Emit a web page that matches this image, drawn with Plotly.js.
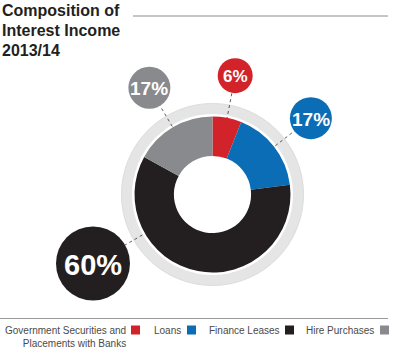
<!DOCTYPE html>
<html><head><meta charset="utf-8">
<script src="https://cdn.plot.ly/plotly-3.0.1.min.js"></script>
<style>html,body{margin:0;padding:0;background:#fff}#chart{width:393px;height:354px}</style>
</head><body><div id="chart"></div>
<script>
// ---- data ----
const categories = ['Government Securities and Placements with Banks', 'Loans', 'Finance Leases', 'Hire Purchases'];
const values = [6, 17, 60, 17];
const titleLines = ['Composition of', 'Interest Income', '2013/14'];
const legendLabels = ['Government Securities and<br>Placements with Banks', 'Loans', 'Finance Leases', 'Hire Purchases'];

// ---- styling / layout ----
const colors = ['#d2232a', '#0b6db5', '#231f20', '#898a8d'];
const W = 393, H = 354;
const cx = 212.5, cy = 194.5, R = 78;
const px = v => v / W, py = v => 1 - v / H;
const bubbleR = [17.5, 21, 37, 21];
const bubbleFont = [17, 19, 29, 19];
const bubbleDist = [121, 124.5, 138, 124];
const angleOverride = [null, null, 240, null];

const total = values.reduce((a, b) => a + b, 0);
let cum = 0;
const shapes = [];
const annotations = [];

// grey ring
shapes.push({type: 'circle', xref: 'paper', yref: 'paper', layer: 'below',
  x0: px(cx - 91), x1: px(cx + 91), y0: py(cy + 91), y1: py(cy - 91),
  fillcolor: '#e5e5e5', line: {color: '#dcdcdc', width: 1}});
shapes.push({type: 'circle', xref: 'paper', yref: 'paper', layer: 'below',
  x0: px(cx - 80.5), x1: px(cx + 80.5), y0: py(cy + 80.5), y1: py(cy - 80.5),
  fillcolor: '#ffffff', line: {width: 0}});

const bubbles = [];
values.forEach((v, i) => {
  const mid = (cum + v / 2) / total * 360;
  cum += v;
  const a = (angleOverride[i] !== null ? angleOverride[i] : mid) * Math.PI / 180;
  const ex = cx + R * Math.sin(a), ey = cy - R * Math.cos(a);
  const bx = cx + bubbleDist[i] * Math.sin(a), by = cy - bubbleDist[i] * Math.cos(a);
  shapes.push({type: 'line', xref: 'paper', yref: 'paper', layer: 'below',
    x0: px(bx), y0: py(by), x1: px(ex), y1: py(ey),
    line: {color: '#333', width: 0.8, dash: 'dot'}});
  bubbles.push({type: 'circle', xref: 'paper', yref: 'paper', layer: 'below',
    x0: px(bx - bubbleR[i]), x1: px(bx + bubbleR[i]), y0: py(by + bubbleR[i]), y1: py(by - bubbleR[i]),
    fillcolor: colors[i], line: {width: 0}});
  annotations.push({xref: 'paper', yref: 'paper', x: px(bx), y: py(by + 1), xanchor: 'center', yanchor: 'middle',
    text: '<b>' + Math.round(v / total * 100) + '%</b>', showarrow: false,
    font: {family: 'Liberation Sans, Arial, sans-serif', size: bubbleFont[i], color: '#ffffff'}});
});
shapes.push(...bubbles);

// title
const titleY = [11, 30.5, 50];
titleLines.forEach((t, i) => annotations.push({xref: 'paper', yref: 'paper', x: px(0), y: py(titleY[i]),
  xanchor: 'left', yanchor: 'middle', text: '<b>' + t + '</b>', showarrow: false,
  font: {family: 'Liberation Sans, Arial, sans-serif', size: 16, color: '#231f20'}}));
shapes.push({type: 'line', xref: 'paper', yref: 'paper', x0: px(133), x1: px(388), y0: py(16), y1: py(16),
  line: {color: '#8c8c8c', width: 1}});

// legend
shapes.push({type: 'line', xref: 'paper', yref: 'paper', x0: px(0), x1: px(388), y0: py(318.5), y1: py(318.5),
  line: {color: '#9a9a9a', width: 1}});
const legTextRight = [127, 182, 281, 375];
const legSq = [131, 187, 285, 380];
legendLabels.forEach((t, i) => {
  annotations.push({xref: 'paper', yref: 'paper', x: px(legTextRight[i]), y: py(324), xanchor: 'right', yanchor: 'top',
    align: 'right', text: t, showarrow: false, borderpad: 0,
    font: {family: 'Liberation Sans, Arial, sans-serif', size: 10, color: '#4a4a4a'}});
  shapes.push({type: 'rect', xref: 'paper', yref: 'paper', x0: px(legSq[i]), x1: px(legSq[i] + 9),
    y0: py(334.5), y1: py(325.5), fillcolor: colors[i], line: {width: 0}});
});

const trace = {
  type: 'pie', values: values, labels: categories, sort: false, direction: 'clockwise', rotation: 0,
  hole: 0.495, textinfo: 'none', hoverinfo: 'label+percent',
  marker: {colors: colors, line: {width: 0}},
  domain: {x: [px(cx - R), px(cx + R)], y: [py(cy + R), py(cy - R)]}
};

Plotly.newPlot('chart', [trace], {
  width: W, height: H, margin: {l: 0, r: 0, t: 0, b: 0}, showlegend: false,
  paper_bgcolor: '#ffffff', shapes: shapes, annotations: annotations
}, {displayModeBar: false, staticPlot: true});
</script></body></html>
